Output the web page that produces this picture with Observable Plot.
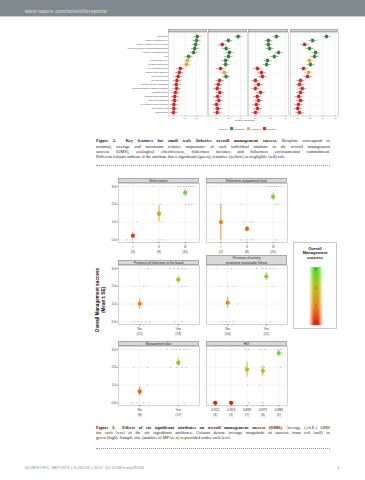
<!DOCTYPE html>
<html><head><meta charset="utf-8">
<script src="https://cdn.jsdelivr.net/npm/d3@7"></script>
<script src="https://cdn.jsdelivr.net/npm/@observablehq/plot@0.6"></script>
<style>
body{margin:0;background:#fff;}
#page{position:relative;width:365px;height:480px;overflow:hidden;background:#fff;font-family:"Liberation Sans",Arial,sans-serif;}
#page > *{position:absolute;}
.strip{background:#d9d9d9;border:0.4px solid #a8a8a8;box-sizing:border-box;color:#222;text-align:center;white-space:nowrap;overflow:hidden;}
.cap{font-family:"Liberation Serif","Times New Roman",serif;color:#222;}
.cap div{white-space:nowrap;text-align:justify;text-align-last:justify;}
.cap div.last{text-align-last:left;}
.dots{border-top:0.6px dotted #9a9a9a;height:0;}
</style></head><body><div id="page"></div>
<script>
// ---------------- Figure 2 data ----------------
const attributes = [
  "Enforcement",
  "Fishermen engagement level",
  "Presence of fishermen in the MPA board",
  "Presence of an activity promoting sustainable fishing",
  "Presence of a management plan",
  "HDI",
  "Main sustainable gear",
  "Very fishing effort allowed",
  "N. types of artisanal fleets",
  "Maximum class of fishermen",
  "Ratio fishermen area",
  "MPA total area (km2)",
  "Fishermen financially compensated",
  "Fishermen consistently engaged in regulations",
  "Authorization system",
  "Fishermen training/awareness",
  "Leader among fishermen",
  "MPA is within a no-take zone (NTZ)",
  "Implementation year",
  "Fishing location"
];
const fig2Panels = ["Overall management success","Ecological effectiveness","Fishermen incomes","Fishermen environmental commitment"];
const omsImportance = [1.03,1.00,0.96,0.92,0.88,0.66,0.61,0.57,0.31,0.26,0.21,0.16,0.13,0.15,0.10,0.07,0.06,0.03,0.03,0.01];
const ecoImportance = [0.90,0.50,0.24,0.40,0.54,0.50,0.38,0.38,0.17,0.33,0.40,0.13,0.08,0.03,0.14,0.05,0.10,0.00,0.05,0.03];
const incImportance = [0.70,0.43,0.43,0.47,0.77,0.63,0.40,0.37,0.07,0.20,0.23,0.00,0.10,0.00,0.17,0.06,0.10,0.03,0.07,0.00];
const envImportance = [1.16,0.60,0.28,0.48,0.72,0.68,0.48,0.52,0.24,0.44,0.40,0.12,0.08,0.19,0.12,0.05,0.12,0.04,0.01,0.08];
const omsStatus = ["C","C","C","C","C","C","T","T","R","R","R","R","R","R","R","R","R","R","R","R"];
const ecoStatus = ["C","C","R","C","C","C","C","C","R","T","C","R","R","R","R","R","R","R","R","R"];
const incStatus = ["C","C","C","C","C","C","C","C","R","R","R","R","R","R","R","R","R","R","R","R"];
const envStatus = ["C","C","R","C","C","C","T","C","R","T","R","R","R","R","R","R","R","R","R","R"];
const statusLabels = ["Confirmed","Tentative","Rejected"];
const statusFill = {C:"#3e8f3e", T:"#f2b233", R:"#e52b2b"};
const statusEdge = {C:"#1d5a1d", T:"#c48a10", R:"#a81212"};
const fig2Ticks = [[0,0.5,1],[0,0.5,1],[0,0.5,1],[0,0.5,1,1.5]];

// ---------------- Figure 3 data ----------------
const enfLevels = ["I","II","III"], enfN = [3,8,11], enfMean = [0.23,1.47,2.66], enfSE = [0.15,0.45,0.20];
const enfRaw = [[0,0,-0.22],[0,0,-0.05],[0,1,0.15],[1,3,-0.2],[1,3,0.15],[1,2,-0.2],[1,2,0.05],[1,1,0.12],[1,0,-0.04],[1,0,0.08],[1,0,0.2],
  [2,3,-0.28],[2,3,-0.18],[2,3,-0.05],[2,3,0.05],[2,3,0.12],[2,3,0.2],[2,3,0.28],[2,2,0.02],[2,2,0.12],[2,2,0.2],[2,2,0.26]];
const engLevels = ["I","II","III"], engN = [2,8,15], engMean = [1.00,0.62,2.43], engSE = [1.00,0.15,0.22];
const engRaw = [[0,2,0],[0,0,0.02],[1,2,-0.2],[1,1,0.12],[1,1,-0.1],[1,1,0.2],[1,0,-0.22],[1,0,0.0],[1,0,0.15],[1,0,0.25],
  [2,3,-0.25],[2,3,-0.15],[2,3,-0.05],[2,3,0.05],[2,3,0.12],[2,3,0.2],[2,3,0.27],[2,2,0.1],[2,2,0.2],[2,0,0.1]];
const boardLevels = ["No","Yes"], boardN = [12,13], boardMean = [1.02,2.38], boardSE = [0.30,0.20];
const boardRaw = [[0,3,0.2],[0,2,-0.15],[0,2,0.1],[0,2,0.17],[0,1,-0.2],[0,1,0.05],[0,0,-0.15],[0,0,-0.05],[0,0,0.05],[0,0,0.15],[0,0,0.25],
  [1,3,-0.2],[1,3,-0.1],[1,3,0.0],[1,3,0.1],[1,3,0.18],[1,2,-0.25],[1,2,0.1],[1,2,0.18],[1,0,-0.1],[1,0,0.08]];
const actLevels = ["No","Yes"], actN = [14,11], actMean = [1.08,2.55], actSE = [0.30,0.20];
const actRaw = [[0,3,-0.3],[0,3,0.1],[0,2,-0.2],[0,2,0.0],[0,2,0.15],[0,1,0.25],[0,0,-0.15],[0,0,-0.05],[0,0,0.05],[0,0,0.15],
  [1,3,-0.25],[1,3,-0.1],[1,3,0.0],[1,3,0.1],[1,3,0.2],[1,2,0.15],[1,0,0.1]];
const planLevels = ["No","Yes"], planN = [8,17], planMean = [0.64,2.26], planSE = [0.25,0.22];
const planRaw = [[0,2,-0.15],[0,2,0.2],[0,1,0.2],[0,0,-0.2],[0,0,-0.05],[0,0,0.1],[0,0,0.25],
  [1,3,-0.3],[1,3,-0.15],[1,3,-0.05],[1,3,0.05],[1,3,0.15],[1,3,0.25],[1,2,-0.2],[1,2,-0.05],[1,2,0.1],[1,2,0.2],[1,0,0.15]];
const hdiLevels = ["0.812","0.853","0.869","0.872","0.884"], hdiN = [3,1,7,8,5], hdiMean = [0.0,0.0,1.87,1.80,2.80], hdiSE = [0,0,0.45,0.30,0.15];
const hdiRaw = [[0,0,-0.2],[0,0,0.1],[1,0,0.1],[2,3,-0.1],[2,3,0.1],[2,2,-0.1],[2,0,0.1],[2,1,0.05],[3,3,-0.15],[3,3,0.1],[3,2,-0.1],[3,2,0.1],[3,1,-0.2],
  [3,0,0.0],[4,3,-0.1],[4,3,0.1],[4,2,0.1]];
const omsColorDomain = [0,1,2,3];
const omsColorRange = ["#ea1a10","#e3891c","#bcbd16","#3fe52a"];

// ---------------- helpers ----------------
const page = document.getElementById("page");
function place(el, left, top){ el.style.left = left+"px"; el.style.top = top+"px"; page.appendChild(el); return el; }
function div(html, cls, css){ const d = document.createElement("div"); if (cls) d.className = cls; d.innerHTML = html; Object.assign(d.style, css||{}); return d; }

// ---------------- page header ----------------
place(div("", "", {width:"365px", height:"16px", background:"#7e8990"}), 0, 0);
place(div("", "", {width:"365px", height:"1px", background:"#c9cfd3"}), 0, 16);
place(div("www.nature.com/scientificreports/", "", {fontSize:"4.9px", color:"#e3e7ea", whiteSpace:"nowrap", letterSpacing:"0.3px"}), 25, 9.3);

// ---------------- Figure 2 ----------------
const whisker = {draw(ctx, size){ const r = Math.sqrt(size/Math.PI); ctx.moveTo(-r,0); ctx.lineTo(r,0); }};
const box = {draw(ctx, size){ const r = Math.sqrt(size/Math.PI); ctx.rect(-0.65*r,-0.85*r,1.3*r,1.7*r); ctx.moveTo(0,-0.85*r); ctx.lineTo(0,0.85*r); }};
const f2Left = [168,208,248,290], f2Right = [207,247,288,338];
const f2Domains = [[-0.2,1.47],[-0.33,1.29],[-0.23,1.1],[-0.28,1.64]];
const f2Values = [omsImportance, ecoImportance, incImportance, envImportance];
const f2Status = [omsStatus, ecoStatus, incStatus, envStatus];
const f2Top = 32.3;
for (let i = 0; i < 4; i++) {
  const rows = attributes.map((a,j)=>({a, v:f2Values[i][j], s:f2Status[i][j]}));
  const ml = i === 0 ? 66 : 0;
  const w = f2Right[i]-f2Left[i];
  const p = Plot.plot({
    width: ml + w, height: 89, marginLeft: ml, marginRight: 0, marginTop: 0, marginBottom: 5.5,
    style: {fontSize:"1.7px", fontFamily:"Liberation Sans, Arial, sans-serif", background:"transparent", color:"#333", overflow:"visible"},
    x: {domain: f2Domains[i], axis: null},
    y: {type:"point", domain: attributes, padding: 0.5, axis: null},
    marks: [
      Plot.gridX({ticks: fig2Ticks[i], stroke:"#e2e2e2", strokeOpacity:1, strokeWidth:0.4}),
      Plot.gridY({stroke:"#f0f0f0", strokeOpacity:1, strokeWidth:0.3}),
      Plot.frame({stroke:"#a0a0a0", strokeWidth:0.4}),
      Plot.axisX({ticks: fig2Ticks[i], tickFormat: d3.format(".1f"), tickSize:1, tickPadding:0.5, strokeWidth:0.3, fontSize:"1.9px", label:null}),
      i === 0 ? Plot.axisY({tickSize:1, tickPadding:0.6, strokeWidth:0.3, label:null}) : null,
      Plot.dot(rows, {x:"v", y:"a", symbol: whisker, r:4, stroke: d=>statusFill[d.s], strokeWidth:0.5}),
      Plot.dot(rows, {x:"v", y:"a", symbol: box, r:1.9, fill: d=>statusFill[d.s], stroke: d=>statusEdge[d.s], strokeWidth:0.35})
    ]
  });
  place(p, f2Left[i]-ml, f2Top);
  place(div(fig2Panels[i], "strip", {width: w+"px", height:"3.4px", fontSize:"1.6px", lineHeight:"3.2px"}), f2Left[i], 29);
}
place(div("Relative importance", "", {fontSize:"2.3px", color:"#333", whiteSpace:"nowrap", width:"40px", textAlign:"center"}), 225, 119);
// legend
const f2Legend = Plot.legend({
  color: {domain: statusLabels, range: [statusFill.C, statusFill.T, statusFill.R]},
  swatchSize: 3.2, style: {fontSize:"2.3px", fontFamily:"Liberation Sans, Arial, sans-serif", color:"#333", background:"transparent"}
});
f2Legend.style.minHeight = "0";
f2Legend.style.margin = "0";
f2Legend.style.height = "3.5px";
const legWrap = div("", "", {display:"flex", alignItems:"center", gap:"2px", whiteSpace:"nowrap", height:"3.5px"});
legWrap.appendChild(div("Features:", "", {fontSize:"2.3px", color:"#333"}));
legWrap.appendChild(f2Legend);
place(legWrap, 218, 127.3);

// caption figure 2
const cap2 = [
  "<b>Figure 2.&nbsp; Key features for small scale fisheries overall management success.</b> Boxplots correspond to",
  "minimal, average and maximum relative importance of each individual attribute to the overall management",
  "success (OMS), ecological effectiveness, fishermen incomes and fishermen environmental commitment.",
  "Different colours indicate if the attribute has a significant (green), tentative (yellow) or negligible (red) role."
];
place(div(cap2.map((t,k)=>`<div class="${k===cap2.length-1?'last':''}">${t}</div>`).join(""), "cap", {width:"234px", fontSize:"4.4px", lineHeight:"5.3px"}), 96, 138.3);
place(div("", "dots", {width:"234px"}), 96, 165);

// ---------------- Figure 3 ----------------
const f3Panels = [
  {title:"Enforcement", lv:enfLevels, n:enfN, m:enfMean, se:enfSE, raw:enfRaw, col:0, row:0},
  {title:"Fishermen engagement level", lv:engLevels, n:engN, m:engMean, se:engSE, raw:engRaw, col:1, row:0},
  {title:"Presence of fishermen in the board", lv:boardLevels, n:boardN, m:boardMean, se:boardSE, raw:boardRaw, col:0, row:1},
  {title:"Presence of activity<br>promoting sustainable fishing", lv:actLevels, n:actN, m:actMean, se:actSE, raw:actRaw, col:1, row:1, two:true},
  {title:"Management plan", lv:planLevels, n:planN, m:planMean, se:planSE, raw:planRaw, col:0, row:2},
  {title:"HDI", lv:hdiLevels, n:hdiN, m:hdiMean, se:hdiSE, raw:hdiRaw, col:1, row:2}
];
const f3ColLeft = [118, 206], f3W = 81, f3RowTop = [183.3, 264.8, 346.3], f3H = 59;
for (const P of f3Panels) {
  const k = P.lv.length;
  const means = P.lv.map((l,i)=>({i, mean:P.m[i], se:P.se[i]}));
  const raw = P.raw.map(r=>({x:r[0]+r[2], y:r[1]}));
  const ml = P.col === 0 ? 8 : 0;
  const p = Plot.plot({
    width: ml + f3W, height: f3H + 12, marginLeft: ml, marginRight: 0, marginTop: 0, marginBottom: 12,
    style: {fontSize:"3.3px", fontFamily:"Liberation Sans, Arial, sans-serif", background:"transparent", color:"#333", overflow:"visible"},
    x: {domain: [-0.55, k-0.45], axis: null},
    y: {domain: [-0.15, 3.17], axis: null},
    color: {type:"linear", domain: omsColorDomain, range: omsColorRange},
    marks: [
      Plot.gridY({ticks:[0,1,2,3], stroke:"#e6e6e6", strokeOpacity:1, strokeWidth:0.5}),
      Plot.gridX({ticks: d3.range(k), stroke:"#e6e6e6", strokeOpacity:1, strokeWidth:0.5}),
      Plot.frame({stroke:"#a6a6a6", strokeWidth:0.5}),
      Plot.axisX({ticks: d3.range(k), tickFormat: i => `${P.lv[i]}\n(${P.n[i]})`, tickSize:1.5, tickPadding:1, lineHeight:1.45, strokeWidth:0.5, label:null}),
      P.col === 0 ? Plot.axisY({ticks:[0,1,2,3], tickSize:1.5, tickPadding:1, strokeWidth:0.5, label:null}) : null,
      Plot.dot(raw, {x:"x", y:"y", r:0.55, fill:"#9d9d9d"}),
      Plot.ruleX(means, {x:"i", y1: d=>d.mean-d.se, y2: d=>d.mean+d.se, stroke:"mean", strokeWidth:0.8}),
      Plot.dot(means, {x:"i", y:"mean", r:2.1, fill:"mean"})
    ]
  });
  place(p, f3ColLeft[P.col]-ml, f3RowTop[P.row]);
  const hh = P.two ? 9.8 : 5.3;
  place(div(P.title, "strip", {width: f3W+"px", height: hh+"px", fontSize:"3.2px", lineHeight: P.two ? "4.5px" : "5px", whiteSpace:"normal"}), f3ColLeft[P.col], f3RowTop[P.row]-hh);
}
// y axis title
place(div("Overall Management success<br>(Mean ± SE)", "", {fontSize:"4.6px", fontWeight:"bold", color:"#111", textAlign:"center", whiteSpace:"nowrap", lineHeight:"5.5px", transform:"translate(-50%,-50%) rotate(-90deg)"}), 100, 300);

// colour legend box
const lg = div("", "", {width:"44px", height:"87px", border:"0.6px solid #c8c8c8", boxSizing:"border-box", background:"#fff"});
place(lg, 293, 242);
place(div("Overall<br>Management<br>success", "", {width:"44px", textAlign:"center", fontSize:"4px", fontWeight:"bold", lineHeight:"4.6px", color:"#111"}), 293, 246.5);
const grad = `linear-gradient(to top, ${omsColorRange.map((c,i)=>c+" "+(i/(omsColorRange.length-1)*100).toFixed(1)+"%").join(", ")})`;
place(div("", "", {width:"14px", height:"58px", backgroundImage:"linear-gradient(to right, rgba(255,255,255,1) 0%, rgba(255,255,255,0) 35%, rgba(255,255,255,0) 65%, rgba(255,255,255,1) 100%), " + grad}), 308.5, 267);
[3,2,1,0].forEach((v,i)=>{
  place(div(String(v), "", {fontSize:"3.2px", color:"#333", width:"14px", textAlign:"center"}), 308.5, 267.5 + i*18.3 - (i===3?2:0));
});

// caption figure 3
const cap3 = [
  "<b>Figure 3.&nbsp; Effects of six significant attributes on overall management success (OMS).</b> Average (±S.E.) OMS",
  "for each level of the six significant attributes. Colours denote average magnitude of success from red (null) to",
  "green (high). Sample size (number of MPAs; n) is provided under each level."
];
place(div(cap3.map((t,k)=>`<div class="${k===cap3.length-1?'last':''}">${t}</div>`).join(""), "cap", {width:"234px", fontSize:"4.4px", lineHeight:"5px"}), 96, 425.3);
place(div("", "dots", {width:"234px"}), 96, 448);

// footer
place(div("SCIENTIFIC R<span style='font-size:3.3px'>EPORTS</span> | 6:28135 | DOI: 10.1038/srep28135", "", {fontSize:"4.2px", color:"#8a8a8a", whiteSpace:"nowrap", letterSpacing:"0.2px"}), 25, 465);
place(div("4", "", {fontSize:"4.2px", color:"#8a8a8a"}), 337, 465);
</script></body></html>
